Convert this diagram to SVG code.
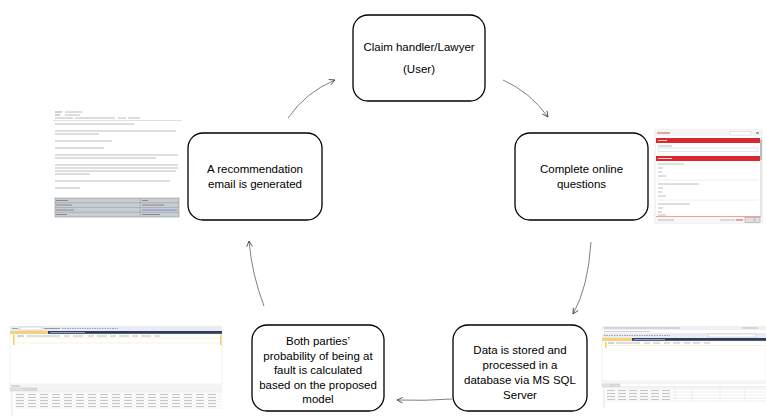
<svg xmlns="http://www.w3.org/2000/svg" width="766" height="416" viewBox="0 0 766 416">
<style>
.node rect{fill:#fff;stroke:#000;stroke-width:1.3}
.node text{font-family:"Liberation Sans",Arial,sans-serif;font-size:11.5px;fill:#000;text-anchor:middle}
.conn path{fill:none;stroke:#808080;stroke-width:1}
.tl{stroke:#bcbcbc;stroke-width:1}
.tld{stroke:#a0a0a0;stroke-width:1}
.grid{stroke:#dcdcdc;stroke-width:0.5}
</style>
<defs>
<marker id="ah" viewBox="0 0 10 10" refX="9" refY="5" markerWidth="7" markerHeight="7" orient="auto" markerUnits="userSpaceOnUse">
<path d="M1,1 L9,5 L1,9" fill="none" stroke="#404040" stroke-width="1.2"/>
</marker>
</defs>
<rect width="766" height="416" fill="#fff"/>

<!-- Email screenshot -->
<g id="email-shot">
<line class="tld" x1="55" y1="112" x2="62" y2="112"/><line class="tl" x1="65" y1="112" x2="82" y2="112"/>
<line class="tld" x1="55" y1="115" x2="60" y2="115"/><line class="tl" x1="65" y1="115" x2="80" y2="115"/>
<line class="tl" x1="55" y1="118" x2="73" y2="118"/><line class="tl" x1="75" y1="118" x2="115" y2="118"/><line class="tl" x1="118" y1="118" x2="126" y2="118"/><line class="tl" x1="128" y1="118" x2="140" y2="118"/>
<line stroke="#e0e0e0" x1="53" y1="120.5" x2="182" y2="120.5"/>
<line class="tl" x1="55" y1="124" x2="134" y2="124"/>
<line class="tl" x1="55" y1="131" x2="176" y2="131"/>
<line class="tl" x1="55" y1="134" x2="99" y2="134"/>
<line class="tl" x1="55" y1="141" x2="112" y2="141"/>
<line class="tl" x1="55" y1="148" x2="104" y2="148"/>
<line class="tl" x1="55" y1="155" x2="178" y2="155"/>
<line class="tl" x1="55" y1="158" x2="156" y2="158"/>
<line class="tl" x1="55" y1="165" x2="178" y2="165"/>
<line class="tl" x1="55" y1="168" x2="178" y2="168"/>
<line class="tl" x1="55" y1="171" x2="176" y2="171"/>
<line class="tl" x1="55" y1="174" x2="90" y2="174"/>
<line class="tl" x1="55" y1="181" x2="170" y2="181"/>
<line class="tl" x1="55" y1="188" x2="80" y2="188"/>
<rect x="55" y="198" width="124" height="19" fill="#c9cdd2" stroke="#8e949b" stroke-width="0.6"/>
<line x1="55" y1="202.75" x2="179" y2="202.75" stroke="#8e949b" stroke-width="0.5"/>
<line x1="55" y1="207.5" x2="179" y2="207.5" stroke="#8e949b" stroke-width="0.5"/>
<line x1="55" y1="212.25" x2="179" y2="212.25" stroke="#8e949b" stroke-width="0.5"/>
<line x1="140" y1="198" x2="140" y2="217" stroke="#8e949b" stroke-width="0.5"/>
<line stroke="#8a8a8a" x1="56" y1="200.5" x2="68" y2="200.5"/><line stroke="#8a8a8a" x1="142" y1="200.5" x2="148" y2="200.5"/>
<line stroke="#8a8a8a" x1="56" y1="205" x2="72" y2="205"/><line stroke="#8a8a8a" x1="142" y1="205" x2="164" y2="205"/>
<line stroke="#8a8a8a" x1="56" y1="210" x2="74" y2="210"/><line stroke="#7a8fe0" x1="142" y1="210" x2="177" y2="210"/>
<line stroke="#8a8a8a" x1="56" y1="214.5" x2="67" y2="214.5"/><line stroke="#8a8a8a" x1="142" y1="214.5" x2="160" y2="214.5"/>
</g>

<!-- Online form screenshot -->
<g id="form-shot">
<rect x="655" y="130" width="107" height="93" fill="#fff" stroke="#d8d8d8" stroke-width="0.6"/>
<rect x="655" y="130" width="107" height="6" fill="#f4f4f4"/>
<line stroke="#d9534f" x1="657" y1="133" x2="670" y2="133"/>
<rect x="730" y="131.5" width="21" height="3.5" fill="#fff" stroke="#ccc" stroke-width="0.5"/>
<line stroke="#555" x1="756" y1="133" x2="759" y2="133"/>
<rect x="656" y="138" width="104" height="5" fill="#d9282f"/>
<line stroke="#fff" stroke-width="0.8" x1="658" y1="140.5" x2="667" y2="140.5"/>
<line class="tl" x1="658" y1="146" x2="672" y2="146"/>
<rect x="658" y="148" width="100" height="3.5" fill="#fff" stroke="#ccc" stroke-width="0.5"/>
<rect x="656" y="156" width="104" height="5" fill="#d9282f"/>
<line stroke="#fff" stroke-width="0.8" x1="658" y1="158.5" x2="672" y2="158.5"/>
<line class="tl" x1="658" y1="164" x2="684" y2="164"/>
<line class="tl" x1="658" y1="168" x2="663" y2="168"/>
<line class="tl" x1="658" y1="172" x2="662" y2="172"/>
<line class="tl" x1="658" y1="176" x2="666" y2="176"/>
<line stroke="#eee" x1="657" y1="180" x2="758" y2="180"/>
<line class="tl" x1="658" y1="184" x2="699" y2="184"/>
<line class="tl" x1="658" y1="188" x2="663" y2="188"/>
<line class="tl" x1="658" y1="192" x2="662" y2="192"/>
<line class="tl" x1="658" y1="196" x2="666" y2="196"/>
<line stroke="#eee" x1="657" y1="200" x2="758" y2="200"/>
<line class="tl" x1="658" y1="204" x2="690" y2="204"/>
<line class="tl" x1="658" y1="208" x2="663" y2="208"/>
<line class="tl" x1="658" y1="212" x2="662" y2="212"/>
<line class="tl" x1="658" y1="215" x2="666" y2="215"/>
<rect x="760" y="137" width="2" height="79" fill="#e6e6e6"/>
<rect x="760" y="140" width="2" height="20" fill="#bbb"/>
<line stroke="#f0a0a0" x1="656" y1="216.5" x2="761" y2="216.5"/>
<rect x="655" y="217" width="107" height="6" fill="#f7f7f7"/>
<line class="tl" x1="658" y1="220" x2="674" y2="220"/>
<line class="tl" x1="720" y1="220" x2="735" y2="220"/>
<line stroke="#d9534f" x1="736" y1="220" x2="743" y2="220"/>
<rect x="745" y="217.5" width="9" height="5" fill="#e0e0e0" stroke="#999" stroke-width="0.5"/>
<rect x="755" y="217.5" width="5" height="5" fill="#e0e0e0" stroke="#999" stroke-width="0.5"/>
</g>

<!-- SSMS screenshot bottom-left -->
<g id="sql-shot-left">
<rect x="10" y="326" width="212" height="90" fill="#fff"/>
<rect x="10" y="326" width="212" height="5" fill="#e9edf3"/>
<line stroke="#8aa" x1="12" y1="328.5" x2="18" y2="328.5"/>
<rect x="20" y="327" width="22" height="3" fill="#fff" stroke="#aab" stroke-width="0.4"/>
<line stroke="#999" x1="44" y1="328.5" x2="60" y2="328.5"/>
<line stroke="#9a9eb5" stroke-dasharray="1.5 1" x1="62" y1="328.5" x2="118" y2="328.5"/>
<rect x="10" y="331" width="212" height="3" fill="#2c3e5c"/>
<rect x="10" y="331" width="38" height="3" fill="#f5d36a"/>
<line stroke="#8aa0c8" x1="50" y1="332.5" x2="85" y2="332.5"/>
<rect x="10" y="334" width="212" height="50" fill="#fff" stroke="#ddd" stroke-width="0.4"/>
<rect x="13" y="335" width="1.5" height="10" fill="#f0d060"/>
<rect x="220" y="335" width="1.5" height="10" fill="#f0d060"/>
<line stroke="#f4efc4" stroke-width="0.7" x1="15" y1="338" x2="220" y2="338"/>
<line stroke="#f4efc4" stroke-width="0.7" x1="15" y1="343" x2="220" y2="343"/>
<line stroke="#7a8fd8" stroke-width="0.8" x1="17" y1="336" x2="24" y2="336"/>
<line stroke="#aab" stroke-width="0.8" x1="26" y1="336" x2="60" y2="336"/>
<line stroke="#e09a9a" stroke-width="0.8" x1="64" y1="336" x2="70" y2="336"/><line stroke="#aab" stroke-width="0.8" x1="73" y1="336" x2="83" y2="336"/>
<line stroke="#e09a9a" stroke-width="0.8" x1="88" y1="336" x2="94" y2="336"/><line stroke="#aab" stroke-width="0.8" x1="97" y1="336" x2="107" y2="336"/>
<line stroke="#e09a9a" stroke-width="0.8" x1="110" y1="336" x2="116" y2="336"/><line stroke="#aab" stroke-width="0.8" x1="119" y1="336" x2="129" y2="336"/>
<line stroke="#e09a9a" stroke-width="0.8" x1="132" y1="336" x2="138" y2="336"/><line stroke="#aab" stroke-width="0.8" x1="141" y1="336" x2="151" y2="336"/>
<line stroke="#e09a9a" stroke-width="0.8" x1="154" y1="336" x2="160" y2="336"/>
<rect x="10" y="384" width="212" height="6" fill="#f4f4f4"/>
<line stroke="#bbb" x1="11" y1="386" x2="20" y2="386"/>
<rect x="10" y="388" width="14" height="2.5" fill="#e8e8e8" stroke="#aaa" stroke-width="0.3"/>
<rect x="24" y="388" width="13" height="2.5" fill="#ddd" stroke="#aaa" stroke-width="0.3"/>
<line stroke="#d0d0d0" stroke-width="0.6" x1="10" y1="391" x2="222" y2="391"/>
<line stroke="#d0d0d0" stroke-width="0.6" x1="12" y1="391" x2="12" y2="416"/>
<g class="grid">
<line x1="15" y1="393" x2="222" y2="393"/><line x1="15" y1="396" x2="222" y2="396"/><line x1="15" y1="399" x2="222" y2="399"/><line x1="15" y1="402" x2="222" y2="402"/><line x1="15" y1="405" x2="222" y2="405"/><line x1="15" y1="408" x2="222" y2="408"/>
</g>
<g stroke="#b8b8b8" stroke-width="0.8" stroke-dasharray="8 4">
<line x1="16" y1="394.5" x2="220" y2="394.5"/>
<line x1="16" y1="397.5" x2="220" y2="397.5"/>
<line x1="16" y1="400.5" x2="220" y2="400.5"/>
<line x1="16" y1="403.5" x2="220" y2="403.5"/>
<line x1="16" y1="406.5" x2="220" y2="406.5"/>
</g>
</g>

<!-- SSMS screenshot bottom-right -->
<g id="sql-shot-right">
<rect x="602" y="326" width="164" height="82" fill="#fff"/>
<rect x="602" y="326" width="164" height="4" fill="#f0f0f0"/>
<line stroke="#aab" stroke-width="0.8" x1="604" y1="328" x2="680" y2="328"/>
<line stroke="#bbb" x1="742" y1="328" x2="758" y2="328"/>
<line stroke="#c4c4c4" stroke-width="0.8" x1="604" y1="331.5" x2="650" y2="331.5"/>
<rect x="602" y="333" width="164" height="5" fill="#e9edf3"/>
<line stroke="#9a9eb5" stroke-dasharray="1.5 1" x1="604" y1="335.5" x2="670" y2="335.5"/>
<rect x="708" y="334" width="48" height="3" fill="#fff" stroke="#aab" stroke-width="0.4"/>
<rect x="602" y="338" width="164" height="3" fill="#2c3e5c"/>
<rect x="602" y="338" width="30" height="3" fill="#f5d36a"/>
<line stroke="#8aa0c8" x1="634" y1="339.5" x2="665" y2="339.5"/>
<rect x="602" y="341" width="164" height="40" fill="#fff" stroke="#ddd" stroke-width="0.4"/>
<rect x="605" y="342" width="1.5" height="6" fill="#f0d060"/>
<line stroke="#7a8fd8" stroke-width="0.8" x1="608" y1="343" x2="614" y2="343"/>
<line stroke="#aab" stroke-width="0.8" x1="616" y1="343" x2="640" y2="343"/>
<line stroke="#e09a9a" stroke-width="0.8" x1="644" y1="343" x2="650" y2="343"/><line stroke="#aab" stroke-width="0.8" x1="653" y1="343" x2="660" y2="343"/>
<line stroke="#e09a9a" stroke-width="0.8" x1="664" y1="343" x2="670" y2="343"/><line stroke="#aab" stroke-width="0.8" x1="673" y1="343" x2="680" y2="343"/>
<line stroke="#e09a9a" stroke-width="0.8" x1="684" y1="343" x2="690" y2="343"/><line stroke="#aab" stroke-width="0.8" x1="693" y1="343" x2="700" y2="343"/>
<line stroke="#e09a9a" stroke-width="0.8" x1="704" y1="343" x2="710" y2="343"/>
<line stroke="#f4efc4" stroke-width="0.7" x1="606" y1="345.5" x2="764" y2="345.5"/>
<rect x="602" y="381" width="164" height="3" fill="#f4f4f4"/>
<rect x="602" y="384" width="9" height="2.5" fill="#e8e8e8" stroke="#aaa" stroke-width="0.3"/>
<rect x="611" y="384" width="9" height="2.5" fill="#ddd" stroke="#aaa" stroke-width="0.3"/>
<line stroke="#d0d0d0" stroke-width="0.6" x1="602" y1="387" x2="766" y2="387"/>
<line stroke="#d0d0d0" stroke-width="0.6" x1="604" y1="387" x2="604" y2="408"/>
<g class="grid">
<line x1="606" y1="389" x2="766" y2="389"/><line x1="606" y1="392" x2="766" y2="392"/><line x1="606" y1="395" x2="766" y2="395"/><line x1="606" y1="398" x2="766" y2="398"/><line x1="606" y1="401" x2="766" y2="401"/>
<line x1="675" y1="387" x2="675" y2="401"/><line x1="692" y1="387" x2="692" y2="401"/><line x1="720" y1="387" x2="720" y2="401"/><line x1="745" y1="387" x2="745" y2="401"/>
</g>
<g stroke="#b8b8b8" stroke-width="0.8" stroke-dasharray="8 3">
<line x1="607" y1="390.5" x2="673" y2="390.5"/>
<line x1="607" y1="393.5" x2="673" y2="393.5"/>
<line x1="607" y1="396.5" x2="673" y2="396.5"/>
<line x1="607" y1="399.5" x2="673" y2="399.5"/>
</g>
</g>

<!-- Connectors -->
<g id="connectors" class="conn">
<path d="M288,118 Q306,92 335,80" marker-end="url(#ah)"/>
<path d="M503,80 Q530,92 548,117" marker-end="url(#ah)"/>
<path d="M591,242 Q588,288 573,314" marker-end="url(#ah)"/>
<path d="M452,399 Q425,401 397,400" marker-end="url(#ah)"/>
<path d="M264,306 Q252,275 249,241" marker-end="url(#ah)"/>
</g>

<!-- Nodes -->
<g id="node-user" class="node">
<rect x="353" y="15" width="132" height="86" rx="15"/>
<text x="419" y="51">Claim handler/Lawyer</text>
<text x="419" y="73">(User)</text>
</g>
<g id="node-questions" class="node">
<rect x="515" y="133" width="133" height="87" rx="15"/>
<text x="581.5" y="173">Complete online</text>
<text x="581.5" y="188">questions</text>
</g>
<g id="node-database" class="node">
<rect x="453" y="325" width="134" height="86" rx="15"/>
<text x="520" y="354">Data is stored and</text>
<text x="520" y="369">processed in a</text>
<text x="520" y="384">database via MS SQL</text>
<text x="520" y="399">Server</text>
</g>
<g id="node-probability" class="node">
<rect x="252" y="325" width="132" height="86" rx="15"/>
<text x="318" y="345">Both parties’</text>
<text x="318" y="359.5">probability of being at</text>
<text x="318" y="374">fault is calculated</text>
<text x="318" y="388.5">based on the proposed</text>
<text x="318" y="403">model</text>
</g>
<g id="node-email" class="node">
<rect x="188" y="133" width="134" height="87" rx="15"/>
<text x="255" y="173">A recommendation</text>
<text x="255" y="188">email is generated</text>
</g>
</svg>
